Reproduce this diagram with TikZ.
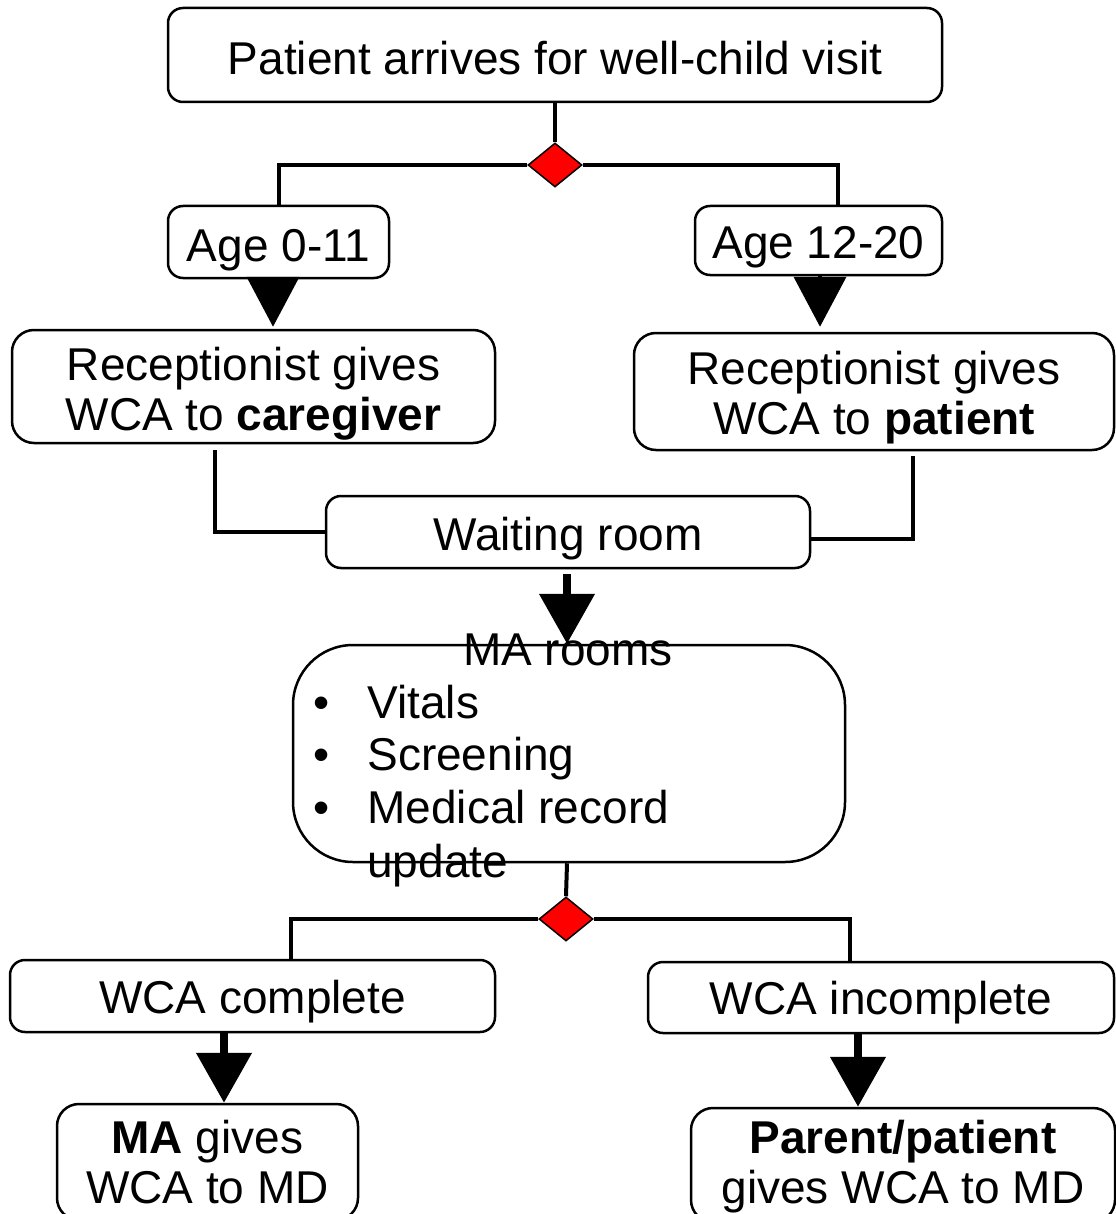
\documentclass[tikz,border=0pt]{standalone}
\usepackage{fontspec}
\setmainfont{Liberation Sans}
\usetikzlibrary{shapes.geometric,arrows.meta,calc}
\begin{document}
\begin{tikzpicture}[x=0.5pt,y=-0.5pt,
  box/.style={draw, line width=1.25pt, rounded corners=7.5pt, inner sep=0pt},
  txt/.style={font=\fontsize{23}{25}\selectfont, inner sep=0pt, align=center},
  conn/.style={line width=2pt},
  dec/.style={diamond, draw, fill=red, line width=0.75pt, minimum width=27pt, minimum height=22pt, inner sep=0pt},
  headarrow/.style={-{Triangle[length=25pt,width=26pt]}, line width=2pt},
  shaftarrow/.style={-{Triangle[length=25pt,width=27pt]}, line width=4pt}
]
\useasboundingbox (0,0) rectangle (1115,1214);

% boxes
\node[box, minimum width=387pt, minimum height=47pt] (top) at (555,55) {};
\node[dec] (d1) at (555,165) {};
\node[box, minimum width=110.5pt, minimum height=36pt] (age1) at (278.5,242) {};
\node[box, minimum width=123.5pt, minimum height=34.5pt] (age2) at (818.5,240.5) {};
\node[box, minimum width=241.5pt, minimum height=56.5pt, rounded corners=11pt] (rec1) at (253.5,386.5) {};
\node[box, minimum width=240pt, minimum height=58.5pt, rounded corners=11pt] (rec2) at (874,391.5) {};
\node[box, minimum width=242pt, minimum height=36pt] (wait) at (568,532) {};
\node[box, minimum width=276pt, minimum height=108.5pt, rounded corners=30pt] (ma) at (569,753.5) {};
\node[dec] (d2) at (566,919) {};
\node[box, minimum width=242.5pt, minimum height=36pt] (wc) at (252.5,996) {};
\node[box, minimum width=233pt, minimum height=35.5pt] (wi) at (881,997.5) {};
\node[box, minimum width=150.5pt, minimum height=58pt, rounded corners=11pt] (mag) at (207.5,1162) {};
\node[box, minimum width=212pt, minimum height=57pt, rounded corners=11pt] (pp) at (903,1165) {};

% box texts
\node[txt] (topt) at ([yshift=-1.5pt]top.center) {Patient arrives for well-child visit};
\node[txt] (age1t) at ([yshift=-4pt]age1.center) {Age 0-11};
\node[txt] (age2t) at ([yshift=-3.5pt]age2.center) {Age 12-20};
\node[txt] (rec1t) at ([yshift=-3.5pt]rec1.center) {Receptionist gives\\WCA to \textbf{caregiver}};
\node[txt] (rec2t) at ([yshift=-3pt]rec2.center) {Receptionist gives\\WCA to \textbf{patient}};
\node[txt] (waitt) at ([yshift=-3.5pt]wait.center) {Waiting room};
\node[txt] (wct) at ([yshift=-3pt]wc.center) {WCA complete};
\node[txt] (wit) at ([yshift=-2.5pt]wi.center) {WCA incomplete};
\node[txt] (magt) at (mag.center) {\textbf{MA} gives\\WCA to MD};
\node[txt] (ppt) at ([yshift=-1pt]pp.center) {\textbf{Parent/patient}\\gives WCA to MD};

% MA rooms text
\node[txt] (matitle) at (568,650) {MA rooms};
\node[txt, anchor=base] (b1) at (322,718) {•};
\node[txt, anchor=base west] (l1) at (367,718) {Vitals};
\node[txt, anchor=base] (b2) at (322,770) {•};
\node[txt, anchor=base west] (l2) at (367,770) {Screening};
\node[txt, anchor=base] (b3) at (322,823) {•};
\node[txt, anchor=base west] (l3) at (367,823) {Medical record};
\node[txt, anchor=base west] (l4) at (367,877) {update};

% connectors
\draw[conn] (top.south) -- (d1.north);
\draw[conn] (d1.west) -| (age1.north);
\draw[conn] (d1.east) -| ([xshift=9.75pt]age2.north);
\draw[headarrow] ([xshift=-2.75pt]age1.south) -- ([xshift=-2.75pt,yshift=1pt]age1.south |- rec1.north);
\draw[headarrow] ([xshift=0.75pt]age2.south) -- ([xshift=0.75pt,yshift=2.5pt]age2.south |- rec2.north);
\draw[conn] ([xshift=-19.25pt,yshift=-3pt]rec1.south) |- (wait.west);
\draw[conn] ([xshift=19.5pt,yshift=-2.5pt]rec2.south) |- ([yshift=-3.5pt]wait.east);
\draw[shaftarrow] ([xshift=-0.5pt,yshift=-2.5pt]wait.south) -- ([xshift=-0.5pt]wait.south |- ma.north);
\draw[conn] ([xshift=-1pt]ma.south) -- (d2.north);
\draw[conn] (d2.west) -| ([xshift=19.25pt]wc.north);
\draw[conn] (d2.east) -| ([xshift=-15.5pt]wi.north);
\draw[shaftarrow] ([xshift=-14.25pt]wc.south) -- ([xshift=-14.25pt]wc.south |- mag.north);
\draw[shaftarrow] ([xshift=-11.5pt]wi.south) -- ([xshift=-11.5pt]wi.south |- pp.north);
\end{tikzpicture}
\end{document}
